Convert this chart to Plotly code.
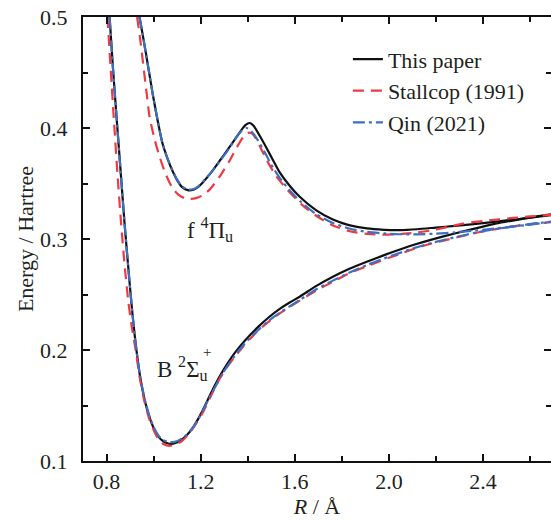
import plotly.graph_objects as go

# ---------------- data ----------------
# This paper
this_B_R = [0.813, 0.828, 0.845, 0.862, 0.877, 0.895, 0.91, 0.923, 0.942, 0.962, 0.983, 1.004, 1.022, 1.04,
            1.058, 1.075, 1.093, 1.11, 1.14, 1.17, 1.20, 1.23, 1.26, 1.294, 1.33, 1.366, 1.41, 1.45, 1.49,
            1.536, 1.58, 1.621, 1.69, 1.762, 1.83, 1.906, 1.98, 2.047, 2.11, 2.174, 2.28, 2.387, 2.47,
            2.55, 2.62, 2.70]
this_B_E = [0.50, 0.452, 0.403, 0.355, 0.313, 0.268, 0.233, 0.207, 0.177, 0.155, 0.139, 0.128, 0.1215, 0.118,
            0.116, 0.1155, 0.1163, 0.118, 0.123, 0.131, 0.142, 0.155, 0.168, 0.181, 0.193, 0.203, 0.2135,
            0.222, 0.2295, 0.237, 0.243, 0.248, 0.2575, 0.266, 0.273, 0.2795, 0.2855, 0.2905, 0.295, 0.299,
            0.305, 0.3105, 0.3145, 0.3175, 0.320, 0.3225]
this_f_R = [0.94, 0.953, 0.966, 0.981, 0.996, 1.017, 1.038, 1.06, 1.081, 1.10, 1.12, 1.145, 1.17, 1.19, 1.209,
            1.245, 1.281, 1.32, 1.366, 1.39, 1.409, 1.425, 1.451, 1.48, 1.51, 1.536, 1.58, 1.621, 1.69,
            1.762, 1.83, 1.906, 1.98, 2.047, 2.12, 2.20, 2.28, 2.35, 2.43, 2.50, 2.60, 2.70]
this_f_E = [0.50, 0.485, 0.469, 0.450, 0.431, 0.407, 0.386, 0.372, 0.361, 0.353, 0.347, 0.344, 0.3445, 0.347,
            0.351, 0.360, 0.3705, 0.382, 0.396, 0.4025, 0.4045, 0.402, 0.393, 0.382, 0.370, 0.360, 0.3475,
            0.338, 0.326, 0.3175, 0.3125, 0.3095, 0.3083, 0.308, 0.3088, 0.3103, 0.3118, 0.3132, 0.315,
            0.3167, 0.3192, 0.3218]

# Stallcop (1991)
stall_B_R = [0.804, 0.818, 0.832, 0.847, 0.862, 0.877, 0.893, 0.908, 0.923, 0.942, 0.962, 0.983, 1.004, 1.022,
             1.04, 1.06, 1.08, 1.10, 1.12, 1.15, 1.18, 1.21, 1.24, 1.27, 1.30, 1.34, 1.38, 1.43, 1.48, 1.536,
             1.58, 1.621, 1.69, 1.762, 1.83, 1.906, 1.98, 2.047, 2.11, 2.174, 2.28, 2.387, 2.47, 2.55, 2.62,
             2.70]
stall_B_E = [0.50, 0.452, 0.405, 0.357, 0.314, 0.276, 0.243, 0.220, 0.201, 0.174, 0.153, 0.137, 0.126, 0.119,
             0.1155, 0.1138, 0.114, 0.1155, 0.118, 0.1245, 0.1335, 0.144, 0.157, 0.170, 0.181, 0.1925, 0.203,
             0.2145, 0.224, 0.233, 0.239, 0.2445, 0.2535, 0.2615, 0.269, 0.2755, 0.2815, 0.2865, 0.2915,
             0.2955, 0.301, 0.3063, 0.3095, 0.312, 0.3138, 0.3155]
stall_f_R = [0.93, 0.943, 0.956, 0.97, 0.983, 1.004, 1.025, 1.045, 1.065, 1.085, 1.105, 1.13, 1.155, 1.18,
             1.205, 1.238, 1.28, 1.323, 1.355, 1.38, 1.40, 1.415, 1.435, 1.46, 1.481, 1.52, 1.566, 1.63, 1.694,
             1.76, 1.834, 1.90, 1.974, 2.05, 2.12, 2.174, 2.25, 2.315, 2.40, 2.47, 2.53, 2.60, 2.70]
stall_f_E = [0.50, 0.48, 0.457, 0.432, 0.41, 0.39, 0.3745, 0.362, 0.352, 0.3445, 0.340, 0.337, 0.3362, 0.3368,
             0.339, 0.3445, 0.356, 0.3705, 0.383, 0.3915, 0.3955, 0.3955, 0.3905, 0.380, 0.371, 0.357, 0.345,
             0.331, 0.3205, 0.3125, 0.307, 0.3048, 0.304, 0.3045, 0.3058, 0.3075, 0.3108, 0.3138, 0.3163,
             0.3178, 0.319, 0.3203, 0.322]

# Qin (2021)
qin_B_R = [0.813, 0.828, 0.845, 0.862, 0.877, 0.895, 0.91, 0.923, 0.942, 0.962, 0.983, 1.004, 1.022, 1.04,
           1.058, 1.075, 1.093, 1.11, 1.14, 1.17, 1.20, 1.23, 1.26, 1.294, 1.33, 1.366, 1.41, 1.45, 1.49,
           1.536, 1.58, 1.621, 1.69, 1.762, 1.83, 1.906, 1.98, 2.047, 2.11, 2.174, 2.28, 2.387, 2.47, 2.55,
           2.62, 2.70]
qin_B_E = [0.50, 0.452, 0.403, 0.355, 0.313, 0.268, 0.233, 0.207, 0.177, 0.156, 0.140, 0.129, 0.1225, 0.119,
           0.1175, 0.117, 0.1175, 0.119, 0.1235, 0.131, 0.1415, 0.154, 0.166, 0.179, 0.1905, 0.2005, 0.211,
           0.219, 0.2265, 0.2335, 0.2395, 0.245, 0.2545, 0.2625, 0.2695, 0.2765, 0.2825, 0.2875, 0.292,
           0.296, 0.3015, 0.3065, 0.3095, 0.312, 0.314, 0.3158]
qin_f_R = [0.94, 0.953, 0.966, 0.981, 0.996, 1.017, 1.038, 1.06, 1.081, 1.10, 1.12, 1.145, 1.17, 1.19, 1.209,
           1.245, 1.281, 1.32, 1.35, 1.375, 1.396, 1.415, 1.44, 1.47, 1.50, 1.536, 1.58, 1.621, 1.69, 1.762,
           1.83, 1.906, 1.98, 2.047, 2.12, 2.20, 2.28, 2.35, 2.43, 2.50, 2.60, 2.70]
qin_f_E = [0.50, 0.485, 0.469, 0.450, 0.431, 0.407, 0.386, 0.372, 0.3615, 0.3535, 0.3475, 0.3445, 0.345,
           0.3475, 0.3515, 0.360, 0.370, 0.381, 0.391, 0.3975, 0.400, 0.397, 0.390, 0.379, 0.367, 0.355,
           0.3435, 0.3345, 0.3225, 0.3145, 0.3095, 0.3065, 0.305, 0.3043, 0.3042, 0.3048, 0.306, 0.3073,
           0.309, 0.3105, 0.313, 0.3155]

series_names = ["This paper", "Stallcop (1991)", "Qin (2021)"]
state_labels = ["f <sup>4</sup>Π<sub>u</sub>", "B <sup>2</sup>Σ<sub>u</sub>"]

# ---------------- styles ----------------
FONT = "Liberation Serif, serif"
TXT = "#231f20"
BLACK = "#111111"
RED = "#ee3a43"
BLUE = "#3d6fc2"

fig = go.Figure()

styles = [
    (series_names[0], BLACK, "solid", [(this_B_R, this_B_E), (this_f_R, this_f_E)]),
    (series_names[1], RED, "11px,7px", [(stall_B_R, stall_B_E), (stall_f_R, stall_f_E)]),
    (series_names[2], BLUE, "12px,4px,3px,4px", [(qin_B_R, qin_B_E), (qin_f_R, qin_f_E)]),
]
for name, color, dash, branches in styles:
    for i, (rr, ee) in enumerate(branches):
        fig.add_trace(go.Scatter(
            x=rr, y=ee, mode="lines", name=name, legendgroup=name,
            showlegend=(i == 0),
            line=dict(color=color, width=2.2, dash=dash, shape="spline", smoothing=0.6),
        ))

# invisible trace to anchor the right-hand tick axis
fig.add_trace(go.Scatter(x=[None], y=[None], yaxis="y2", showlegend=False, hoverinfo="skip"))

tick_common = dict(ticks="inside", ticklen=7, tickwidth=1.8, tickcolor=BLACK,
                   showgrid=False, zeroline=False)

fig.update_layout(
    width=551, height=522,
    margin=dict(l=83, r=0, t=17, b=61, pad=0),
    paper_bgcolor="white", plot_bgcolor="white",
    font=dict(family=FONT, size=22, color=TXT),
    xaxis=dict(range=[0.7, 2.689], tick0=0.8, dtick=0.4, tickformat=".1f",
               tickfont=dict(size=22),
               showline=True, linewidth=2, linecolor=BLACK, mirror="ticks",
               minor=dict(dtick=0.2, tick0=0.8, ticks="inside", ticklen=5, tickwidth=1.8,
                          tickcolor=BLACK, showgrid=False),
               title=dict(text="<i>R</i> / Å", font=dict(size=22), standoff=4),
               **tick_common),
    yaxis=dict(range=[0.1, 0.5], tick0=0.1, dtick=0.1, tickformat=".1f",
               tickfont=dict(size=22), ticklabelstandoff=9,
               showline=True, linewidth=2, linecolor=BLACK,
               minor=dict(dtick=0.05, tick0=0.1, ticks="inside", ticklen=5, tickwidth=1.8,
                          tickcolor=BLACK, showgrid=False),
               title=dict(text="Energy / Hartree", font=dict(size=22), standoff=0),
               **tick_common),
    yaxis2=dict(range=[0.1, 0.5], tick0=0.1, dtick=0.1, overlaying="y", side="right",
                showline=False, showticklabels=False,
                minor=dict(dtick=0.05, tick0=0.1, ticks="inside", ticklen=5, tickwidth=1.8,
                           tickcolor=BLACK, showgrid=False),
                **tick_common),
    legend=dict(x=0.566, y=0.952, xanchor="left", yanchor="top",
                bgcolor="rgba(0,0,0,0)", font=dict(size=22, color=TXT),
                itemwidth=30, tracegroupgap=0),
    showlegend=True,
    annotations=[
        dict(x=1.132, y=0.309, xref="x", yref="y", text=state_labels[0], showarrow=False,
             xanchor="left", yanchor="middle", font=dict(size=23, color=TXT)),
        dict(x=1.004, y=0.183, xref="x", yref="y", text=state_labels[1], showarrow=False,
             xanchor="left", yanchor="middle", font=dict(size=23, color=TXT)),
        dict(x=1.225, y=0.198, xref="x", yref="y", text="+", showarrow=False,
             xanchor="center", yanchor="middle", font=dict(size=15, color=TXT)),
    ],
)

fig.write_html("out.html")
